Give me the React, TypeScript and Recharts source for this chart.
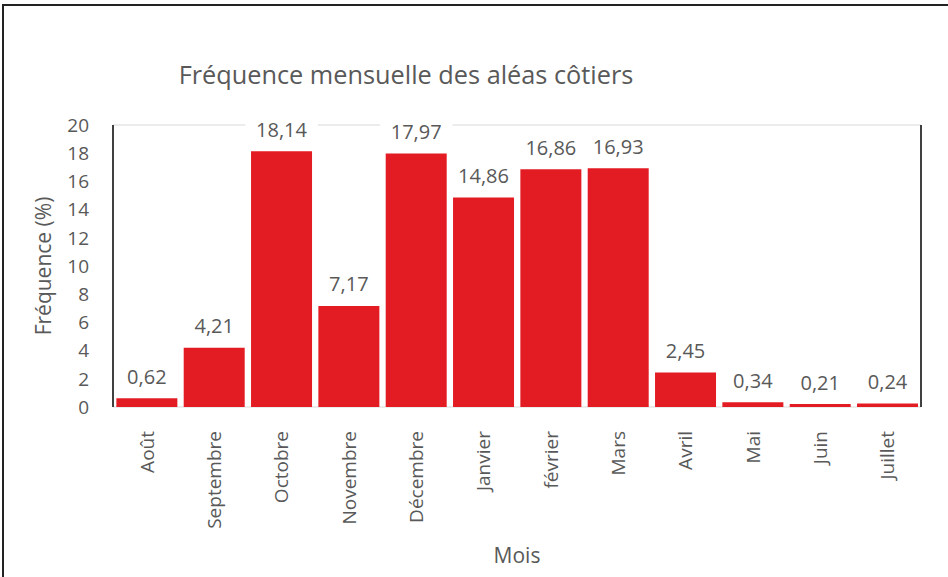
import React from 'react';
import { BarChart, Bar, XAxis, YAxis, CartesianGrid, LabelList, Label } from 'recharts';

const months = ['Août', 'Septembre', 'Octobre', 'Novembre', 'Décembre', 'Janvier', 'février', 'Mars', 'Avril', 'Mai', 'Juin', 'Juillet'];
const frequency = [0.62, 4.21, 18.14, 7.17, 17.97, 14.86, 16.86, 16.93, 2.45, 0.34, 0.21, 0.24];
const yTicks = [0, 2, 4, 6, 8, 10, 12, 14, 16, 18, 20];

const data = months.map((month, i) => ({ month, value: frequency[i] }));

const FONT = '"Open Sans", "Noto Sans", sans-serif';
const TEXT = '#595959';

const fmt = (v: number) => v.toFixed(2).replace('.', ',');

function ValueLabel(props: any) {
  const { x, y, width, value } = props;
  const cx = x + width / 2;
  const cy = y - 22;
  const txt = fmt(value);
  const w = txt.length * 10.5 + 20;
  return (
    <g>
      <rect x={cx - w / 2} y={cy - 12} width={w} height={24} fill="#fff" />
      <text x={cx} y={cy} textAnchor="middle" dominantBaseline="central" fontFamily={FONT} fontSize={20} fill={TEXT}>
        {txt}
      </text>
    </g>
  );
}

function MonthTick(props: any) {
  const { x, y, payload } = props;
  return (
    <text
      transform={`translate(${x}, ${y + 16}) rotate(-90)`}
      textAnchor="end"
      dominantBaseline="central"
      fontFamily={FONT}
      fontSize={19}
      fill={TEXT}
    >
      {payload.value}
    </text>
  );
}

export default function App() {
  return (
    <div style={{ position: 'absolute', left: 0, top: 0, width: 948, height: 577, background: '#fff' }}>
      <div style={{ position: 'absolute', left: 3, top: 4, width: 945, height: 2, background: '#222' }} />
      <div style={{ position: 'absolute', left: 2, top: 4, width: 2, height: 573, background: '#222' }} />
      <div
        style={{
          position: 'absolute',
          left: 106,
          width: 600,
          top: 57,
          textAlign: 'center',
          fontFamily: FONT,
          fontSize: 25.3,
          color: TEXT,
          lineHeight: '34px',
        }}
      >
        Fréquence mensuelle des aléas côtiers
      </div>
      <BarChart
        width={948}
        height={577}
        data={data}
        margin={{ top: 125, right: 26, bottom: 0, left: 0 }}
        barCategoryGap="5%"
        style={{ position: 'absolute', left: 0, top: 0 }}
      >
        <CartesianGrid vertical={false} stroke="#d9d9d9" strokeWidth={1.2} />
        <XAxis
          dataKey="month"
          axisLine={false}
          tickLine={false}
          interval={0}
          tick={<MonthTick />}
          height={170}
        >
          <Label
            content={(p: any) => (
              <text
                x={p.viewBox.x + p.viewBox.width / 2}
                y={563}
                textAnchor="middle"
                fontFamily={FONT}
                fontSize={21}
                fill={TEXT}
              >
                Mois
              </text>
            )}
          />
        </XAxis>
        <YAxis
          yAxisId="left"
          domain={[0, 20]}
          ticks={yTicks}
          width={113}
          axisLine={{ stroke: '#404040', strokeWidth: 2 }}
          tickLine={false}
          tickSize={0}
          tickMargin={24}
          tick={{ fontFamily: FONT, fontSize: 19, fill: TEXT }}
          interval={0}
        >
          <Label
            content={(p: any) => {
              const cy = p.viewBox.y + p.viewBox.height / 2;
              return (
                <text
                  transform={`translate(43, ${cy}) rotate(-90)`}
                  textAnchor="middle"
                  dominantBaseline="central"
                  fontFamily={FONT}
                  fontSize={21}
                  fill={TEXT}
                >
                  Fréquence (%)
                </text>
              );
            }}
          />
        </YAxis>
        <YAxis
          yAxisId="right"
          orientation="right"
          domain={[0, 20]}
          width={1}
          tick={false}
          tickLine={false}
          axisLine={{ stroke: '#404040', strokeWidth: 2 }}
        />
        <Bar dataKey="value" yAxisId="left" fill="#e31b23" isAnimationActive={false}>
          <LabelList dataKey="value" content={<ValueLabel />} />
        </Bar>
      </BarChart>
    </div>
  );
}
